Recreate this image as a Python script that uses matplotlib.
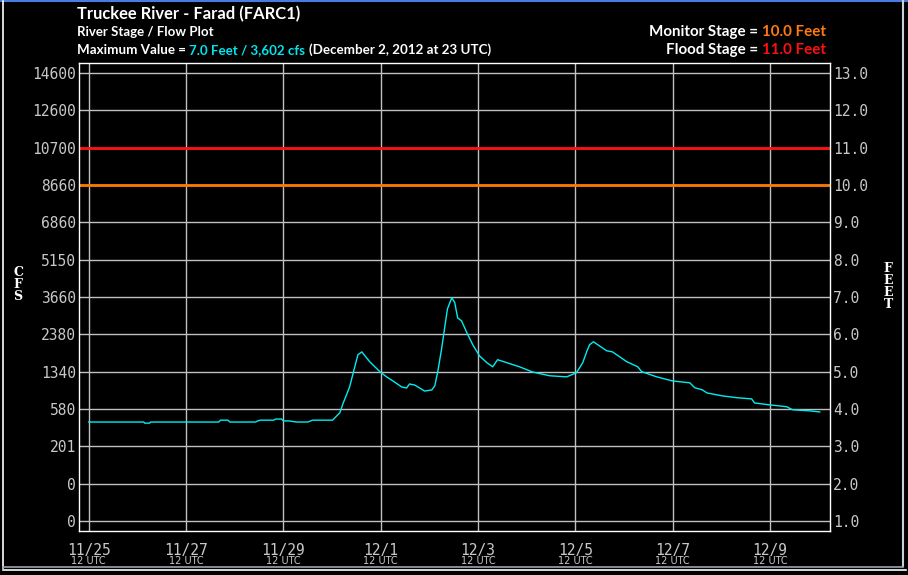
import matplotlib
matplotlib.use('Agg')
import matplotlib.pyplot as plt
from matplotlib.lines import Line2D
import matplotlib.transforms as mtransforms

# stage trace: days after 11/25 12 UTC, river stage in feet
days = [0.0, 1.13, 1.15, 1.25, 1.27, 2.67, 2.71, 2.86, 2.90, 3.43, 3.47, 3.53, 3.80, 3.84,
        3.96, 4.00, 4.11, 4.27, 4.50, 4.60, 5.01, 5.16, 5.22, 5.36, 5.46, 5.53, 5.61, 5.77,
        5.98, 6.12, 6.25, 6.43, 6.53, 6.59, 6.70, 6.90, 7.05, 7.11, 7.17, 7.25, 7.31, 7.37,
        7.46, 7.52, 7.58, 7.66, 7.77, 7.89, 8.03, 8.18, 8.30, 8.40, 8.59, 8.85, 9.12, 9.47,
        9.82, 10.02, 10.15, 10.23, 10.29, 10.37, 10.64, 10.76, 11.05, 11.28, 11.36, 11.67,
        12.00, 12.35, 12.45, 12.61, 12.70, 13.02, 13.33, 13.62, 13.68, 13.99, 14.34, 14.46,
        14.81, 15.02]
stage = [3.65, 3.65, 3.62, 3.62, 3.65, 3.65, 3.70, 3.70, 3.65, 3.65, 3.68, 3.70, 3.70, 3.73,
         3.73, 3.68, 3.68, 3.65, 3.65, 3.70, 3.70, 3.90, 4.13, 4.59, 5.10, 5.45, 5.53, 5.27,
         5.00, 4.86, 4.75, 4.59, 4.56, 4.67, 4.64, 4.48, 4.51, 4.62, 4.99, 5.61, 6.15, 6.68,
         6.98, 6.85, 6.44, 6.36, 6.04, 5.72, 5.42, 5.24, 5.13, 5.32, 5.24, 5.13, 4.99, 4.89,
         4.86, 4.97, 5.24, 5.53, 5.72, 5.80, 5.56, 5.53, 5.27, 5.13, 5.00, 4.86,
         4.75, 4.70, 4.57, 4.51, 4.43, 4.35, 4.30, 4.27, 4.16, 4.11, 4.06, 3.98,
         3.95, 3.92]

feet_ticks = [1, 2, 3, 4, 5, 6, 7, 8, 9, 10, 11, 12, 13]
cfs_labels = ['0', '0', '201', '580', '1340', '2380', '3660', '5150', '6860',
              '8660', '10700', '12600', '14600']
date_ticks = [0, 2, 4, 6, 8, 10, 12, 14]
date_labels = ['11/25', '11/27', '11/29', '12/1', '12/3', '12/5', '12/7', '12/9']

monitor_stage = 10.0
flood_stage = 11.0

W, H = 908, 575
fig = plt.figure(figsize=(W / 100, H / 100), dpi=100, facecolor='black')
ax = fig.add_axes([79 / W, 1 - 531 / H, (830 - 79) / W, (531 - 63) / H])
ax.set_facecolor('black')

grid_col = '#c0c0c0'
for f in feet_ticks:
    ax.axhline(f, color=grid_col, lw=1, zorder=1)
for d in date_ticks:
    ax.axvline(d, color=grid_col, lw=1, zorder=1)

ax.axhline(flood_stage, color='#ff1010', lw=2, zorder=2)
ax.axhline(monitor_stage, color='#ff7800', lw=2, zorder=2)
ax.plot(days, stage, color='#00eef0', lw=1.0, zorder=3)

ax.set_xlim(-0.2, 15.23)
ax.set_ylim(0.73, 13.27)
for s in ax.spines.values():
    s.set_color('white')
    s.set_linewidth(1)

tick_font = dict(family='DejaVu Sans Mono', size=10.5, color='#c8c8c8')
ax.set_yticks(feet_ticks)
ax.set_yticklabels(cfs_labels, **tick_font)
ax.tick_params(axis='y', length=0, pad=2)
ax.set_xticks([])

ax2 = ax.twinx()
ax2.set_ylim(ax.get_ylim())
ax2.set_yticks(feet_ticks)
ax2.set_yticklabels(['%.1f' % f for f in feet_ticks], **tick_font)
ax2.tick_params(axis='y', length=0, pad=2)
for s in ax2.spines.values():
    s.set_visible(False)

trans = mtransforms.blended_transform_factory(ax.transData, ax.transAxes)
for d, lab in zip(date_ticks, date_labels):
    ax.text(d, -0.042, lab, transform=trans, ha='center', va='center', **tick_font)
    ax.text(d, -0.065, '12 UTC', transform=trans, ha='center', va='center',
            family='DejaVu Sans', size=7, color='#c8c8c8')

# titles
def fy(py):
    return 1 - py / H

tfam = 'Lato'
fig.text(77 / W, fy(14), 'Truckee River - Farad (FARC1)', family=tfam, weight='bold',
         size=11.9, color='white', va='center')
fig.text(77 / W, fy(32), 'River Stage / Flow Plot', family=tfam, weight='bold',
         size=9.5, color='white', va='center')
t = fig.text(77 / W, fy(50), 'Maximum Value = ', family=tfam, weight='bold',
             size=9.6, color='white', va='center')
fig.canvas.draw()
r = fig.canvas.get_renderer()
bb = t.get_window_extent(r)
t2 = fig.text(bb.x1 / W, fy(50), '7.0 Feet / 3,602 cfs', family=tfam, weight='bold',
              size=9.6, color='#00e5f0', va='center')
bb2 = t2.get_window_extent(r)
fig.text(bb2.x1 / W + 4 / W, fy(50), '(December 2, 2012 at 23 UTC)', family=tfam,
         weight='bold', size=9.6, color='white', va='center')

rs = 10.9
t3 = fig.text(826 / W, fy(32), '10.0 Feet', family=tfam, weight='bold', size=rs,
              color='#ff7a10', va='center', ha='right')
bb3 = t3.get_window_extent(r)
fig.text(bb3.x0 / W, fy(32), 'Monitor Stage = ', family=tfam, weight='bold', size=rs,
         color='white', va='center', ha='right')
t4 = fig.text(826 / W, fy(50), '11.0 Feet', family=tfam, weight='bold', size=rs,
              color='#ff1010', va='center', ha='right')
bb4 = t4.get_window_extent(r)
fig.text(bb4.x0 / W, fy(50), 'Flood Stage = ', family=tfam, weight='bold', size=rs,
         color='white', va='center', ha='right')

# axis names, stacked letters
for i, ch in enumerate('CFS'):
    fig.text(18 / W, fy(273 + 12 * i), ch, family='DejaVu Serif', weight='bold', size=9,
             color='white', ha='center', va='center')
for i, ch in enumerate('FEET'):
    fig.text(888 / W, fy(269 + 12 * i), ch, family='DejaVu Serif', weight='bold', size=9,
             color='white', ha='center', va='center')

# window frame
def frame(x0, y0, x1, y1, c, lw):
    fig.add_artist(Line2D([x0 / W, x1 / W], [fy(y0), fy(y1)], color=c, lw=lw))

frame(0, 0.5, W, 0.5, '#4a7be0', 1.5)
frame(3, 1, 3, 568, 'white', 1.2)
frame(903, 1, 903, 566, '#c8d0dc', 1.5)
frame(3, 567, 903, 567, '#9aa4b0', 1.2)
frame(3, 570, 906, 570, 'white', 1.2)

fig.savefig('out.png', dpi=100, facecolor='black')
